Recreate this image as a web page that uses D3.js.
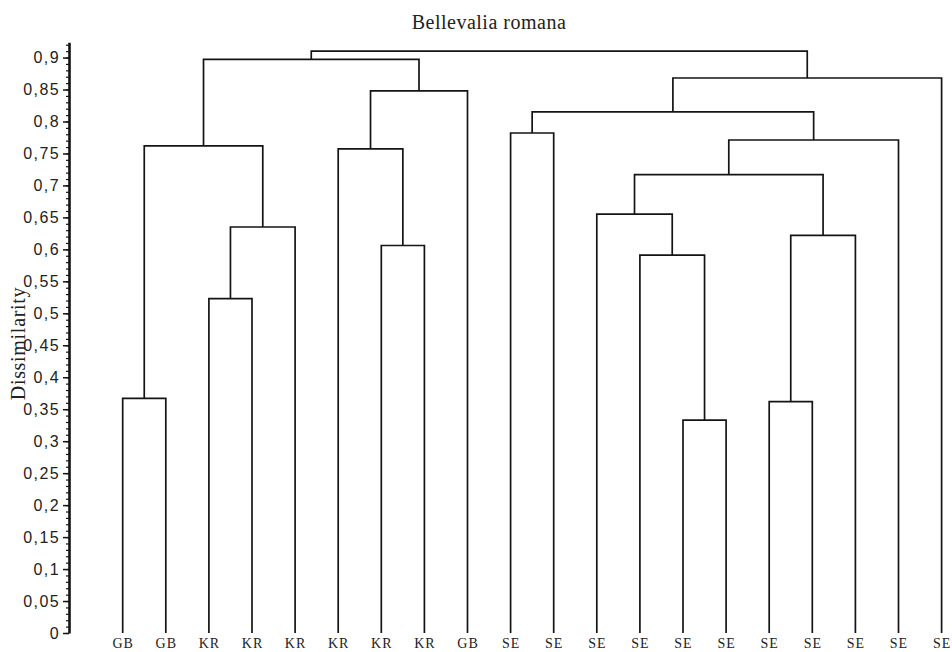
<!DOCTYPE html>
<html>
<head>
<meta charset="utf-8">
<script src="https://cdn.jsdelivr.net/npm/d3@7"></script>
<style>
  html, body { margin: 0; padding: 0; background: #fff; }
  svg { display: block; }
</style>
</head>
<body>
<svg id="chart" width="952" height="652"></svg>
<script>
// ---- data ----
const title = "Bellevalia romana";
const yLabel = "Dissimilarity";
const leafLabels = ["GB","GB","KR","KR","KR","KR","KR","KR","GB",
                    "SE","SE","SE","SE","SE","SE","SE","SE","SE","SE","SE"];
// merges: [childA, childB, dissimilarity]; leaves are 0..19, new clusters numbered from 20
const merges = [
  [13, 14, 0.333],  // 20
  [15, 16, 0.362],  // 21
  [0, 1, 0.367],    // 22
  [2, 3, 0.523],    // 23
  [12, 20, 0.591],  // 24
  [6, 7, 0.606],    // 25
  [21, 17, 0.622],  // 26
  [23, 4, 0.635],   // 27
  [11, 24, 0.655],  // 28
  [28, 26, 0.717],  // 29
  [5, 25, 0.757],   // 30
  [22, 27, 0.762],  // 31
  [29, 18, 0.771],  // 32
  [9, 10, 0.782],   // 33
  [33, 32, 0.815],  // 34
  [30, 8, 0.848],   // 35
  [34, 19, 0.868],  // 36
  [31, 35, 0.897],  // 37
  [37, 36, 0.910]   // 38
];
const yTicks = [0,0.05,0.1,0.15,0.2,0.25,0.3,0.35,0.4,0.45,0.5,0.55,0.6,0.65,0.7,0.75,0.8,0.85,0.9];
const yMinorTicks = d3.range(0, 93).map(i => i / 100);

// ---- build hierarchy ----
const nodes = leafLabels.map((l, i) => ({ id: i, label: l, h: 0 }));
merges.forEach(([a, b, h], k) => {
  nodes.push({ id: leafLabels.length + k, h: h, children: [nodes[a], nodes[b]] });
});
const root = d3.hierarchy(nodes[nodes.length - 1]);

// ---- scales ----
const svg = d3.select("#chart");
const axisX = 69;
const y = d3.scaleLinear().domain([0, 0.924]).range([633, 633 - 0.924 * 639.4]);
const x = d3.scalePoint().domain(d3.range(leafLabels.length)).range([122.7, 941.6]);

root.leaves().forEach(n => { n.px = x(n.data.id); });
root.eachAfter(n => {
  if (n.children) n.px = d3.mean(n.children, c => c.px);
});

// ---- links ----
const internal = root.descendants().filter(n => n.children);
svg.append("g")
  .selectAll("path")
  .data(internal)
  .join("path")
  .attr("fill", "none")
  .attr("stroke", "#141414")
  .attr("stroke-width", 1.7)
  .attr("stroke-linejoin", "miter")
  .attr("d", n => {
    const [a, b] = n.children;
    return `M${a.px},${y(a.data.h)}V${y(n.data.h)}H${b.px}V${y(b.data.h)}`;
  });

// ---- y axis ----
const locale = d3.formatLocale({ decimal: ",", thousands: ".", grouping: [3], currency: ["", ""] });
const fmt = locale.format("~g");

const gMinor = svg.append("g")
  .attr("transform", `translate(${axisX},0)`)
  .call(d3.axisLeft(y).tickValues(yMinorTicks).tickSize(3).tickSizeOuter(0).tickFormat(""));
gMinor.select(".domain").remove();
gMinor.selectAll("line").attr("stroke", "#141414").attr("stroke-width", 1.2);

const gAxis = svg.append("g")
  .attr("transform", `translate(${axisX},0)`)
  .call(d3.axisLeft(y).tickValues(yTicks).tickSize(6).tickSizeOuter(0).tickPadding(3).tickFormat(fmt));
gAxis.select(".domain").attr("stroke", "#141414").attr("stroke-width", 2.6);
gAxis.selectAll(".tick line").attr("stroke", "#141414").attr("stroke-width", 1.5);
gAxis.selectAll(".tick text")
  .attr("fill", "#222")
  .style("font-family", "'Liberation Sans', Arial, sans-serif")
  .style("font-size", "16px")
  .style("letter-spacing", "1.4px");

// ---- leaf labels ----
svg.append("g")
  .selectAll("text")
  .data(root.leaves())
  .join("text")
  .attr("x", n => n.px + 0.5)
  .attr("y", 647.5)
  .attr("text-anchor", "middle")
  .attr("fill", "#222")
  .style("font-family", "'Liberation Serif', 'Times New Roman', serif")
  .style("font-size", "14px")
  .style("letter-spacing", "1px")
  .text(n => n.data.label);

// ---- titles ----
svg.append("text")
  .attr("x", 489)
  .attr("y", 28.5)
  .attr("text-anchor", "middle")
  .attr("fill", "#222")
  .style("font-family", "'Liberation Serif', 'Times New Roman', serif")
  .style("font-size", "20px")
  .style("letter-spacing", "0.5px")
  .text(title);

svg.append("text")
  .attr("transform", "translate(25,343.5) rotate(-90)")
  .attr("text-anchor", "middle")
  .attr("fill", "#222")
  .style("font-family", "'Liberation Serif', 'Times New Roman', serif")
  .style("font-size", "20px")
  .style("letter-spacing", "0.7px")
  .text(yLabel);
</script>
</body>
</html>
